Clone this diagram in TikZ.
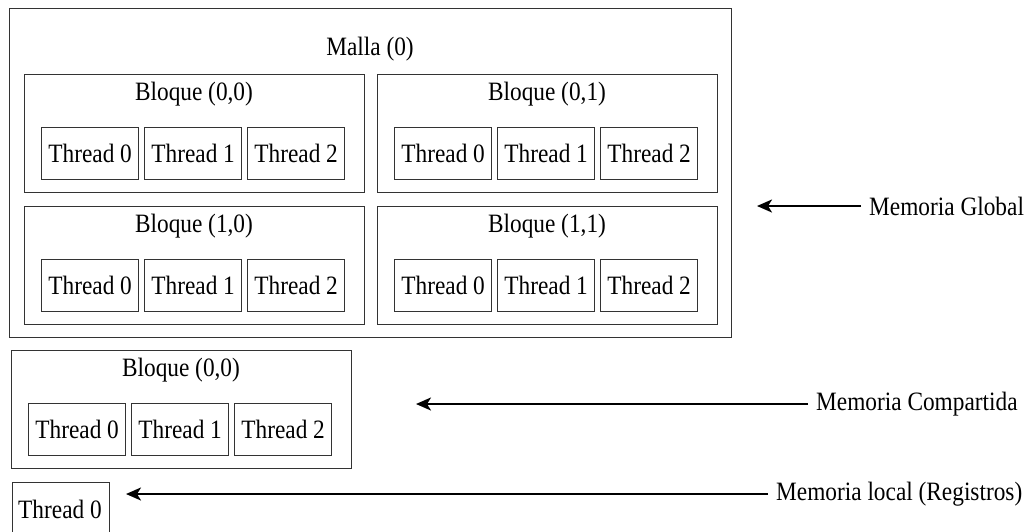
\documentclass[tikz,border=0pt]{standalone}
\usepackage{fontspec}
\setmainfont[FakeStretch=0.88]{Liberation Serif}
\usetikzlibrary{arrows.meta,calc}
\begin{document}
\begin{tikzpicture}[x=1pt,y=-1pt,
  every node/.style={font=\fontsize{26.5}{30}\selectfont, text=black},
  frame/.style={draw=black!80, line width=1.3pt, anchor=north west, inner sep=0pt},
  gridbox/.style={frame, minimum width=722pt, minimum height=329pt},
  blockbox/.style={frame, minimum width=340pt, minimum height=118pt},
  threadbox/.style={frame, minimum width=97pt, minimum height=52pt},
  caption/.style={inner sep=0pt},
  memlabel/.style={anchor=west, inner sep=8pt},
  memarrow/.style={draw=black, line width=2.4pt,
    -{Stealth[length=15pt,width=13pt,inset=4pt]}}
]
\useasboundingbox (0,0) rectangle (1032,531);

% a block: frame, title and three threads
\newcommand\cudablock[4]{%
  \node[blockbox] (#1) at (#2,#3) {};
  \node[caption] (#1-title) at ($(#2,#3)+(170,20)$) {#4};
  \node[threadbox] (#1-t0) at ($(#2,#3)+(17,53)$) {Thread 0};
  \node[threadbox] (#1-t1) at ($(#2,#3)+(120,53)$) {Thread 1};
  \node[threadbox] (#1-t2) at ($(#2,#3)+(223,53)$) {Thread 2};
}

% grid with four blocks
\node[gridbox] (grid) at (9,8) {};
\node[caption] (grid-title) at (370,49) {Malla (0)};
\cudablock{b00}{24}{74}{Bloque (0,0)}
\cudablock{b01}{377}{74}{Bloque (0,1)}
\cudablock{b10}{24}{206}{Bloque (1,0)}
\cudablock{b11}{377}{206}{Bloque (1,1)}

% single block
\cudablock{sb}{11}{350}{Bloque (0,0)}

% single thread
\node[frame, minimum width=97pt, minimum height=56pt] (st) at (12,482) {};
\node[caption] (st-label) at (60,509) {Thread 0};

% memory levels
\node[memlabel] (mglobal) at (861,206) {Memoria Global};
\node[memlabel] (mshared) at (808,404) {Memoria Compartida};
\node[memlabel] (mlocal) at (768,494) {Memoria local (Registros)};

\coordinate (tipG) at (757,206);
\coordinate (tipS) at (416,404);
\coordinate (tipL) at (126,494);

\draw[memarrow] (mglobal.west) -- (tipG);
\draw[memarrow] (mshared.west) -- (tipS);
\draw[memarrow] (mlocal.west) -- (tipL);
\end{tikzpicture}
\end{document}
